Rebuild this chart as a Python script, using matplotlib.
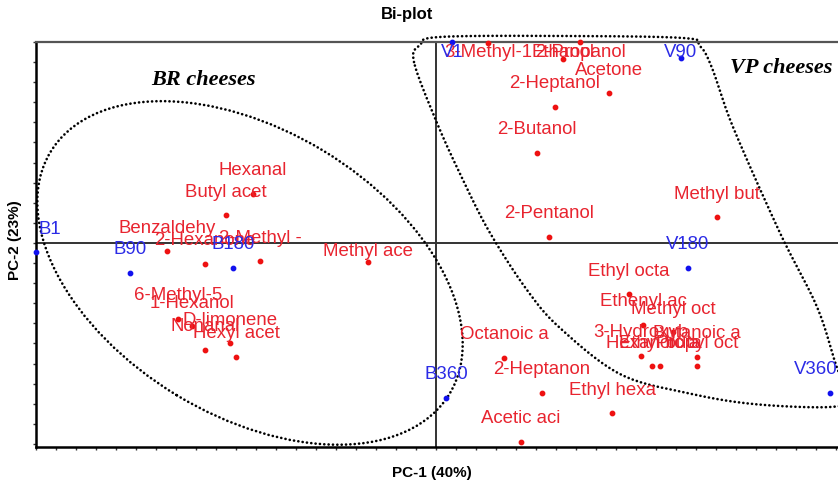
import matplotlib
matplotlib.use('Agg')
import matplotlib.pyplot as plt
import numpy as np
from matplotlib.patches import Ellipse

plt.rcParams['font.family'] = ['Liberation Sans', 'DejaVu Sans']

# PCA scores of the cheese samples
sample_names = ['B1', 'B90', 'B180', 'B360', 'V1', 'V90', 'V180', 'V360']
sample_pc1 = [-2.00, -1.53, -1.015, 0.05, 0.08, 1.225, 1.26, 1.97]
sample_pc2 = [-0.045, -0.149, -0.124, -0.771, 1.00, 0.920, -0.124, -0.746]

# loadings of the volatile compounds (names cut to 10 characters)
var_names = ['Hexanal', 'Butyl acet', 'Benzaldehy', '2-Hexanone', '2-Methyl -',
             'Methyl ace', '6-Methyl-5', '1-Hexanol', 'D-limonene', 'Nonanal',
             'Hexyl acet', '3-Methyl-1', '2-Propanol', 'Ethanol', 'Acetone',
             '2-Heptanol', '2-Butanol', 'Methyl but', '2-Pentanol', 'Ethyl octa',
             'Ethenyl ac', 'Methyl oct', '3-Hydroxyb', 'Butanoic a', 'Hexanoic a',
             'Ethyl buta', 'Propyl oct', 'Octanoic a', '2-Heptanon', 'Ethyl hexa',
             'Acetic aci']
var_pc1 = [-0.915, -1.05, -1.345, -1.155, -0.88,
           -0.34, -1.29, -1.22, -1.03, -1.155,
           -1.00, 0.26, 0.72, 0.635, 0.865,
           0.595, 0.505, 1.405, 0.565, 0.965,
           1.035, 1.185, 1.025, 1.305, 1.08,
           1.12, 1.305, 0.34, 0.53, 0.88,
           0.425]
var_pc2 = [0.244, 0.139, -0.040, -0.104, -0.090,
           -0.095, -0.378, -0.413, -0.498, -0.532,
           -0.567, 0.995, 1.00, 0.915, 0.746,
           0.677, 0.448, 0.129, 0.030, -0.254,
           -0.408, -0.443, -0.562, -0.567, -0.612,
           -0.612, -0.612, -0.572, -0.746, -0.846,
           -0.990]

# outline of the VP group (closed, smoothed below)
vp_x = [-0.11, -0.08, 0.02, 0.62, 1.235, 1.32, 1.38, 1.485, 1.72, 1.905, 2.00,
        2.06, 1.97, 1.585, 1.255, 0.92, 0.62, 0.455, 0.27, 0.135, 0.005]
vp_y = [0.900, 0.985, 1.025, 1.030, 1.020, 0.980, 0.871, 0.577, 0.050, -0.318,
        -0.607, -0.771, -0.816, -0.801, -0.746, -0.652, -0.423, -0.234, 0.050,
        0.313, 0.597]

xmin, xmax = -2.0, 2.01
ymin, ymax = -1.015, 1.0


def smooth_closed(px, py, n=20):
    # closed Catmull-Rom curve through the outline points
    p = np.column_stack([px, py])
    k = len(p)
    out = []
    for i in range(k):
        p0, p1, p2, p3 = p[i - 1], p[i], p[(i + 1) % k], p[(i + 2) % k]
        for t in np.linspace(0, 1, n, endpoint=False):
            t2, t3 = t * t, t * t * t
            out.append(0.5 * (2 * p1 + (-p0 + p2) * t +
                              (2 * p0 - 5 * p1 + 4 * p2 - p3) * t2 +
                              (-p0 + 3 * p1 - 3 * p2 + p3) * t3))
    out.append(out[0])
    out = np.array(out)
    return out[:, 0], out[:, 1]


fig = plt.figure(figsize=(8.38, 4.82), dpi=100)
ax = fig.add_axes([36 / 838, 1 - 447 / 482, 802 / 838, 405 / 482])
ax.set_xlim(xmin, xmax)
ax.set_ylim(ymin, ymax)

ax.axhline(0, color='#333333', lw=1.4, zorder=1)
ax.axvline(0, color='#333333', lw=1.4, zorder=1)

dot_style = (0, (0.05, 1.6))
br = Ellipse((-0.93, -0.149), 2.33, 1.42, angle=-31, fill=False,
             edgecolor='black', lw=1.9, linestyle=dot_style, capstyle='round',
             clip_on=False)
ax.add_patch(br)
sx, sy = smooth_closed(vp_x, vp_y)
ax.plot(sx, sy, color='black', lw=1.9, linestyle=dot_style,
        dash_capstyle='round', clip_on=False)

ax.scatter(var_pc1, var_pc2, s=10, color='#ee1111', zorder=3, clip_on=False)
ax.scatter(sample_pc1, sample_pc2, s=10, color='#1111ee', zorder=3, clip_on=False)

nudge = {'Methyl ace': -0.064}


def put_labels(names, xs, ys, color):
    for n, x, y in zip(names, xs, ys):
        ly = min(y + 23 / 201, 0.95) + nudge.get(n, 0)
        lx, ha = x, 'center'
        if x < xmin + 0.1:
            lx, ha = xmin + 0.01, 'left'
        elif x > xmax - 0.1:
            lx, ha = xmax, 'right'
        ax.text(lx, ly, n, color=color, fontsize=13.4, ha=ha, va='center',
                zorder=4)


put_labels(var_names, var_pc1, var_pc2, '#e8242f')
put_labels(sample_names, sample_pc1, sample_pc2, '#2b2be6')

ax.text(-1.165, 0.811, 'BR cheeses', family='Liberation Serif',
        style='italic', weight='bold', fontsize=16, ha='center', va='center')
ax.text(1.725, 0.871, 'VP cheeses', family='Liberation Serif',
        style='italic', weight='bold', fontsize=16, ha='center', va='center')

ax.set_xticks(np.round(np.arange(-2.0, 2.01, 0.1), 2))
ax.set_yticks(np.round(np.arange(-1.0, 1.01, 0.1), 2))
ax.tick_params(direction='out', length=2.5, width=1, labelbottom=False,
               labelleft=False, color='#333333')
ax.spines['right'].set_visible(False)
ax.spines['left'].set_linewidth(1.8)
ax.spines['bottom'].set_linewidth(1.8)
ax.spines['top'].set_linewidth(1.6)
ax.spines['top'].set_color('#555555')

fig.text(407 / 838, 1 - 15 / 482, 'Bi-plot', weight='bold', fontsize=12,
         ha='center', va='center')
fig.text(432 / 838, 1 - 473 / 482, 'PC-1 (40%)', weight='bold', fontsize=11,
         ha='center', va='center')
fig.text(15 / 838, 1 - 240 / 482, 'PC-2 (23%)', weight='bold', fontsize=11,
         ha='center', va='center', rotation=90)

fig.savefig('out.png', dpi=100)
